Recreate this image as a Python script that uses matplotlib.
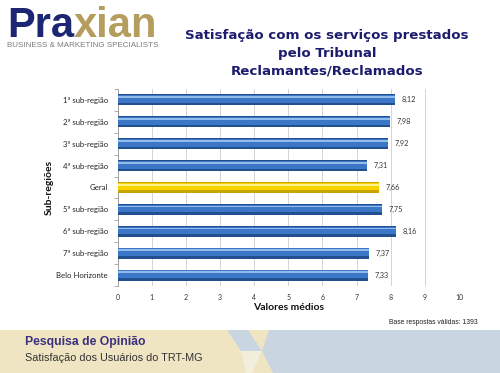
import matplotlib
matplotlib.use("Agg")
import matplotlib.pyplot as plt
from matplotlib.patches import Rectangle, Polygon

categories = ["1ª sub-região", "2ª sub-região", "3ª sub-região", "4ª sub-região",
              "Geral", "5ª sub-região", "6ª sub-região", "7ª sub-região", "Belo Horizonte"]
values = [8.12, 7.98, 7.92, 7.31, 7.66, 7.75, 8.16, 7.37, 7.33]
value_labels = ["8,12", "7,98", "7,92", "7,31", "7,66", "7,75", "8,16", "7,37", "7,33"]
highlight = "Geral"
x_ticks = list(range(0, 11))

title_lines = ["Satisfação com os serviços prestados", "pelo Tribunal", "Reclamantes/Reclamados"]

W, H = 500, 373
fig = plt.figure(figsize=(W / 100, H / 100), dpi=100)
fig.patch.set_facecolor("white")

# background overlay axes (pixel coordinates)
bg = fig.add_axes([0, 0, 1, 1])
bg.set_xlim(0, W)
bg.set_ylim(H, 0)
bg.axis("off")

beige = "#efe5c2"
bluegray = "#c9d5e1"
bg.add_patch(Rectangle((0, 330), W, H - 330, color=beige, lw=0))
bg.add_patch(Polygon([(269, 330), (W, 330), (W, H), (273, H), (262, 351)], closed=True,
                     color=bluegray, lw=0))
bg.add_patch(Polygon([(227, 330), (248, 330), (262, 351), (241, 351)], closed=True,
                     color=bluegray, lw=0))
bg.add_patch(Polygon([(241, 351), (262, 351), (252, H), (246, H)], closed=True,
                     color="#f3eedb", lw=0))

# Logo
t1 = bg.text(7, 37, "Pra", fontsize=30, fontweight="bold", family="Liberation Sans",
             color="#1d2673", ha="left", va="baseline")
bg.annotate("xian", xy=(1, 0), xycoords=t1, xytext=(0, 0), textcoords="offset points",
            fontsize=30, fontweight="bold", family="Liberation Sans", color="#b59d5e",
            ha="left", va="bottom")
bg.text(7, 47, "BUSINESS & MARKETING SPECIALISTS", fontsize=5.8, family="Liberation Sans",
        color="#7a7a7a", ha="left", va="baseline")

# Title
ty = [39, 57, 75]
for line, y in zip(title_lines, ty):
    bg.text(327, y, line, fontsize=9.6, fontweight="bold", family="DejaVu Sans",
            color="#1c1c6e", ha="center", va="baseline")

# Footer text
bg.text(25, 342, "Pesquisa de Opinião", fontsize=8.8, fontweight="bold", family="Liberation Sans",
        color="#3b2f80", ha="left", va="center")
bg.text(25, 358, "Satisfação dos Usuários do TRT-MG", fontsize=7.8, family="Liberation Sans",
        color="#333333", ha="left", va="center")
bg.text(478, 322, "Base respostas válidas: 1393", fontsize=4.9, family="Liberation Sans",
        color="#222222", ha="right", va="center")

# Chart axes
ax = fig.add_axes([117.5 / W, 1 - 286 / H, 341.5 / W, 197 / H])
ax.set_zorder(2)
ax.patch.set_alpha(0)
ypos = list(range(len(categories)))
h = 0.5
dark = ["#c9a400" if c == highlight else "#214f90" for c in categories]
main = ["#f7d400" if c == highlight else "#3b77c6" for c in categories]
light = ["#fff38a" if c == highlight else "#92bcec" for c in categories]

ax.barh(ypos, values, height=h, color=dark, zorder=3)
ax.barh([y - h * 0.08 for y in ypos], values, height=h * 0.7, color=main, zorder=4)
ax.barh([y - h * 0.26 for y in ypos], values, height=h * 0.16, color=light, zorder=5)

for y, v, lab in zip(ypos, values, value_labels):
    ax.text(v + 0.2, y, lab, fontsize=5.2, family="Lato", color="#333333",
            ha="left", va="center", zorder=6)

ax.set_xlim(0, 10)
ax.set_ylim(len(categories) - 0.5, -0.5)
ax.set_xticks(x_ticks)
ax.set_xticklabels([str(t) for t in x_ticks], fontsize=5, family="Lato", color="#333333")
ax.set_yticks(ypos)
ax.set_yticklabels(categories, fontsize=5.6, family="Lato", color="#222222")
ax.set_yticks([y + 0.5 for y in ypos[:-1]] + [-0.5, len(categories) - 0.5], minor=True)
ax.tick_params(axis="y", which="major", length=0, pad=7)
ax.tick_params(axis="y", which="minor", length=3, color="#a0a0a0", width=0.6)
ax.tick_params(axis="x", length=0, pad=6)
ax.grid(axis="x", color="#d4d4d4", lw=0.7, zorder=0)
ax.set_axisbelow(True)
for s in ["top", "right", "bottom"]:
    ax.spines[s].set_visible(False)
ax.spines["left"].set_color("#a0a0a0")
ax.spines["left"].set_linewidth(0.7)

ax.set_xlabel("Valores médios", fontsize=7.5, fontweight="bold", family="Lato",
              color="#111111", labelpad=1)
ax.set_ylabel("Sub-regiões", fontsize=7.5, fontweight="bold", family="Lato",
              color="#111111", labelpad=2)

fig.savefig("out.png", dpi=100)
